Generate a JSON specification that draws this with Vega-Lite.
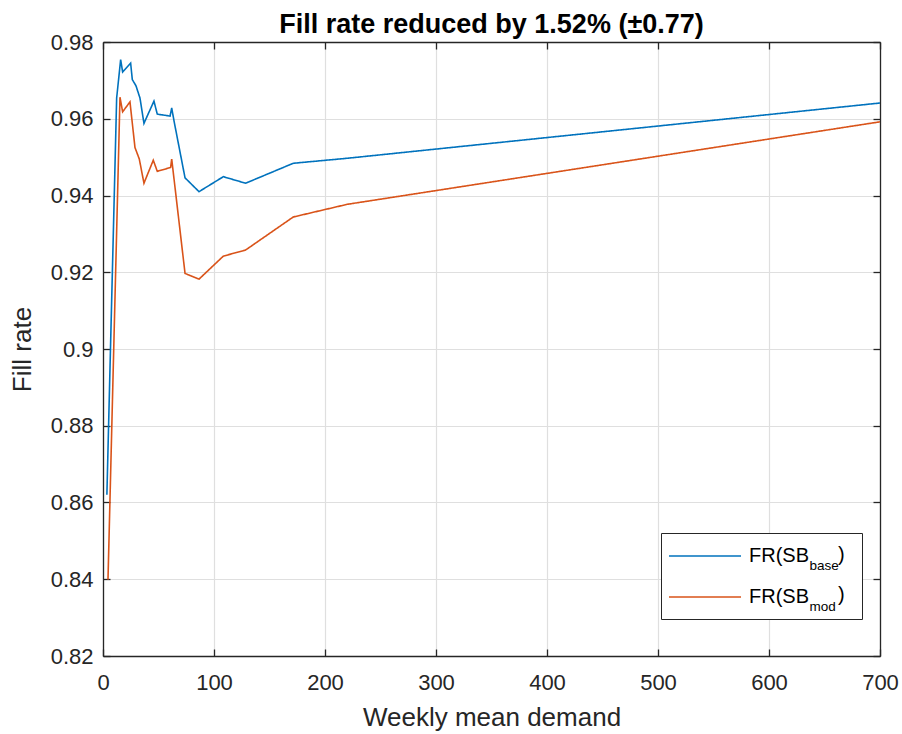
{
  "$schema": "https://vega.github.io/schema/vega-lite/v6.json",
  "width": 777,
  "height": 614,
  "autosize": "none",
  "padding": {"left": 103, "top": 42, "right": 22, "bottom": 78},
  "background": "white",
  "config": {
    "font": "Liberation Sans",
    "view": {"stroke": null},
    "axis": {
      "labelFont": "Liberation Sans",
      "titleFont": "Liberation Sans",
      "labelColor": "#262626",
      "titleColor": "#262626",
      "domainColor": "#262626",
      "tickColor": "#262626",
      "domainWidth": 1.3,
      "tickWidth": 1.3,
      "gridColor": "#dfdfdf",
      "gridWidth": 1.2,
      "labelFontSize": 22,
      "titleFontSize": 26,
      "titleFontWeight": "normal",
      "labelFlush": false
    },
    "legend": {
      "labelFont": "Liberation Sans",
      "labelColor": "#000000"
    }
  },
  "title": {
    "text": "Fill rate reduced by 1.52% (±0.77)",
    "fontSize": 27,
    "fontWeight": "bold",
    "color": "#000000",
    "font": "Liberation Sans",
    "anchor": "middle",
    "offset": -8
  },
  "data": {
    "values": [
      {"x": 3.5, "fr": 0.862, "series": "base"},
      {"x": 12.3, "fr": 0.9654, "series": "base"},
      {"x": 15.9, "fr": 0.9754, "series": "base"},
      {"x": 17.7, "fr": 0.9722, "series": "base"},
      {"x": 24.9, "fr": 0.9745, "series": "base"},
      {"x": 26.4, "fr": 0.9702, "series": "base"},
      {"x": 29.7, "fr": 0.9686, "series": "base"},
      {"x": 33.3, "fr": 0.9654, "series": "base"},
      {"x": 36.9, "fr": 0.9588, "series": "base"},
      {"x": 45.9, "fr": 0.9646, "series": "base"},
      {"x": 48.9, "fr": 0.9612, "series": "base"},
      {"x": 60.4, "fr": 0.9607, "series": "base"},
      {"x": 61.9, "fr": 0.9628, "series": "base"},
      {"x": 64.0, "fr": 0.9594, "series": "base"},
      {"x": 73.9, "fr": 0.9446, "series": "base"},
      {"x": 86.5, "fr": 0.941, "series": "base"},
      {"x": 108.4, "fr": 0.9449, "series": "base"},
      {"x": 128.5, "fr": 0.9432, "series": "base"},
      {"x": 171.4, "fr": 0.9484, "series": "base"},
      {"x": 220, "fr": 0.9497, "series": "base"},
      {"x": 700, "fr": 0.9641, "series": "base"},
      {"x": 4.5, "fr": 0.8399, "series": "mod"},
      {"x": 15.3, "fr": 0.9656, "series": "mod"},
      {"x": 17.7, "fr": 0.9618, "series": "mod"},
      {"x": 24.3, "fr": 0.9644, "series": "mod"},
      {"x": 28.8, "fr": 0.9525, "series": "mod"},
      {"x": 32.7, "fr": 0.9495, "series": "mod"},
      {"x": 36.9, "fr": 0.9432, "series": "mod"},
      {"x": 45.3, "fr": 0.9492, "series": "mod"},
      {"x": 48.9, "fr": 0.9463, "series": "mod"},
      {"x": 60.9, "fr": 0.9473, "series": "mod"},
      {"x": 61.9, "fr": 0.9495, "series": "mod"},
      {"x": 73.9, "fr": 0.9197, "series": "mod"},
      {"x": 86.5, "fr": 0.9182, "series": "mod"},
      {"x": 108.4, "fr": 0.9242, "series": "mod"},
      {"x": 128.5, "fr": 0.9258, "series": "mod"},
      {"x": 171.4, "fr": 0.9344, "series": "mod"},
      {"x": 220, "fr": 0.9377, "series": "mod"},
      {"x": 700, "fr": 0.9592, "series": "mod"}
    ]
  },
  "layer": [
    {
      "mark": {"type": "line", "strokeWidth": 1.6},
      "encoding": {
        "x": {
          "field": "x", "type": "quantitative",
          "scale": {"domain": [0, 700], "nice": false, "zero": false},
          "axis": {
            "title": "Weekly mean demand",
            "values": [0, 100, 200, 300, 400, 500, 600, 700],
            "format": "d",
            "grid": true,
            "tickSize": -7,
            "labelPadding": 23,
            "titlePadding": 11
          }
        },
        "y": {
          "field": "fr", "type": "quantitative",
          "scale": {"domain": [0.82, 0.98], "nice": false, "zero": false},
          "axis": {
            "title": "Fill rate",
            "values": [0.82, 0.84, 0.86, 0.88, 0.9, 0.92, 0.94, 0.96, 0.98],
            "format": ".2~f",
            "grid": true,
            "tickSize": -7,
            "labelPadding": 17,
            "titlePadding": 15
          }
        },
        "color": {
          "field": "series", "type": "nominal",
          "scale": {"domain": ["base", "mod"], "range": ["#0072BD", "#D95319"]},
          "legend": {
            "title": null,
            "orient": "none",
            "legendX": 558,
            "legendY": 491,
            "fillColor": "white",
            "strokeColor": "#262626",
            "padding": 12,
            "symbolType": "M-1.5,0H5.7M16.2,0",
            "symbolSize": 400,
            "symbolStrokeWidth": 1.6,
            "labelOffset": 54,
            "rowPadding": 20,
            "labelFontSize": 20,
            "labelExpr": "'FR(SB'"
          }
        },
        "opacity": {
          "field": "series", "type": "nominal",
          "scale": {"domain": ["mod", "base"], "range": [1, 1]},
          "legend": {
            "title": null,
            "orient": "none",
            "values": ["base", "mod"],
            "legendX": 693,
            "legendY": 517,
            "padding": 0,
            "symbolSize": 0,
            "symbolOpacity": 0,
            "labelOffset": 0,
            "rowPadding": 26.5,
            "labelFontSize": 13.5
          }
        },
        "strokeDash": {
          "field": "series", "type": "nominal",
          "scale": {"domain": ["base", "mod", "none"], "range": [[1, 0], [1, 0], [1, 0]]},
          "legend": {
            "title": null,
            "orient": "none",
            "values": ["base", "mod"],
            "legendX": 715,
            "legendY": 503,
            "padding": 0,
            "symbolSize": 0,
            "symbolOpacity": 0,
            "labelOffset": 0,
            "rowPadding": 20,
            "labelFontSize": 20,
            "labelExpr": "')'"
          }
        }
      }
    },
    {
      "mark": {"type": "line", "opacity": 0},
      "encoding": {
        "x": {
          "field": "x", "type": "quantitative",
          "axis": {
            "orient": "top", "labels": false, "title": null, "grid": false,
            "values": [0, 100, 200, 300, 400, 500, 600, 700],
            "tickSize": -7
          }
        },
        "y": {
          "field": "fr", "type": "quantitative",
          "axis": {
            "orient": "right", "labels": false, "title": null, "grid": false,
            "values": [0.82, 0.84, 0.86, 0.88, 0.9, 0.92, 0.94, 0.96, 0.98],
            "tickSize": -7
          }
        },
        "detail": {"field": "series"}
      }
    }
  ],
  "resolve": {"axis": {"x": "independent", "y": "independent"}}
}
